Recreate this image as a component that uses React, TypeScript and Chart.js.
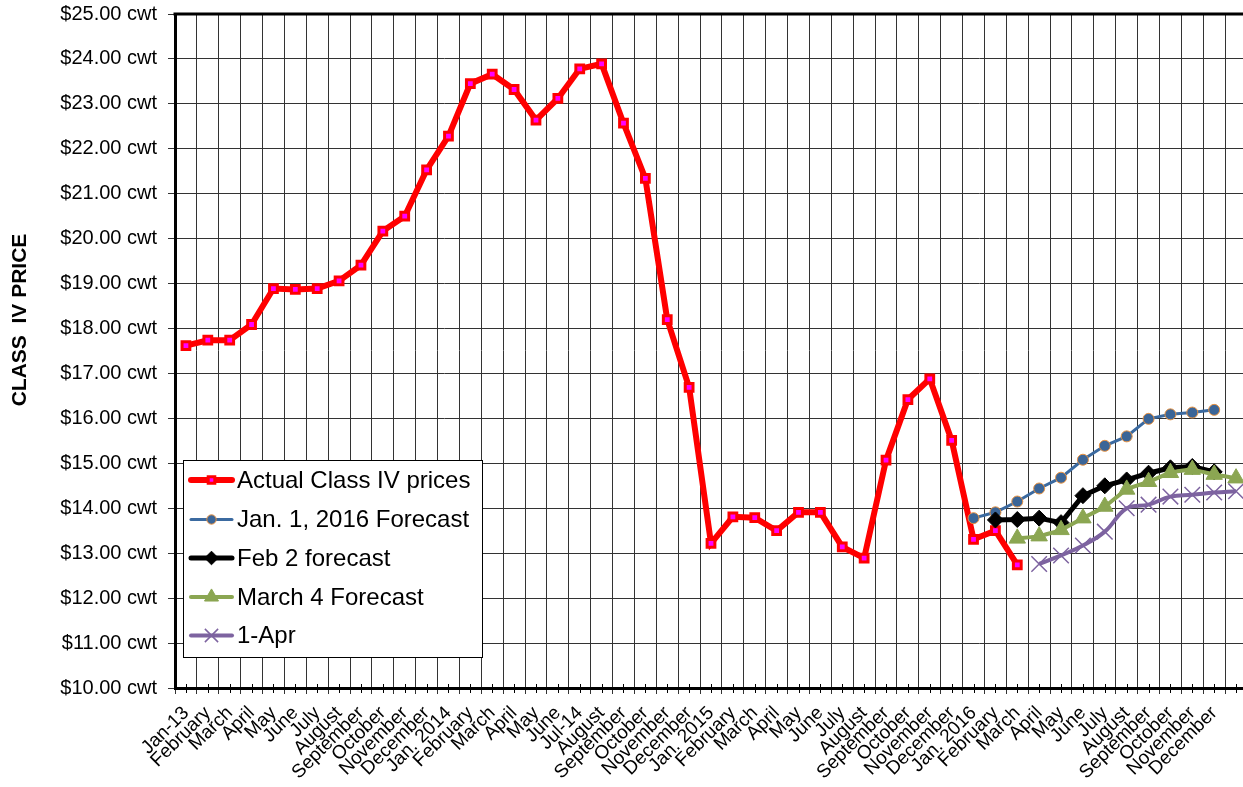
import React, { useEffect, useRef } from 'react';
import { Chart, registerables } from 'chart.js';

Chart.register(...registerables);

const FONT = '"Liberation Sans", Arial, Helvetica, sans-serif';

const categories = [
  'Jan-13', 'February', 'March', 'April', 'May', 'June', 'July', 'August', 'September', 'October', 'November', 'December',
  'Jan. 2014', 'February', 'March', 'April', 'May', 'June', 'Jul-14', 'August', 'September', 'October', 'November', 'December',
  'Jan. 2015', 'February', 'March', 'April', 'May', 'June', 'July', 'August', 'September', 'October', 'November', 'December',
  'Jan. 2016', 'February', 'March', 'April', 'May', 'June', 'July', 'August', 'September', 'October', 'November', 'December',
  '',
];

const yMin = 10;
const yMax = 25;
const yStep = 1;
const yTitle = 'CLASS  IV PRICE';

// Actual Class IV prices, starting Jan-13
const actualPrices = [
  17.62, 17.74, 17.74, 18.09, 18.89, 18.87, 18.89, 19.06, 19.41, 20.17, 20.5, 21.53,
  22.28, 23.45, 23.66, 23.32, 22.64, 23.12, 23.78, 23.89, 22.57, 21.34, 18.2, 16.69,
  13.22, 13.81, 13.79, 13.5, 13.91, 13.91, 13.14, 12.89, 15.07, 16.42, 16.88, 15.51,
  13.31, 13.5, 12.74,
];
// Jan. 1, 2016 Forecast, starting Jan. 2016
const jan1Start = 36;
const jan1Forecast = [13.78, 13.91, 14.15, 14.44, 14.68, 15.08, 15.39, 15.6, 15.99, 16.09, 16.13, 16.19];
// Feb 2 forecast, starting February 2016
const feb2Start = 37;
const feb2Forecast = [13.74, 13.75, 13.78, 13.68, 14.28, 14.5, 14.63, 14.78, 14.9, 14.93, 14.81];
// March 4 Forecast, starting March 2016
const mar4Start = 38;
const mar4Forecast = [13.33, 13.38, 13.52, 13.78, 14.04, 14.42, 14.59, 14.79, 14.86, 14.75, 14.67];
// 1-Apr forecast, starting April 2016
const apr1Start = 39;
const apr1Forecast = [12.76, 12.95, 13.17, 13.48, 14.0, 14.08, 14.26, 14.3, 14.35, 14.38];

const pad = (start: number, vals: number[]) => {
  const out: (number | null)[] = [];
  for (let i = 0; i < start; i++) out.push(null);
  return out.concat(vals);
};

function drawMarker(ctx: CanvasRenderingContext2D, style: string, x: number, y: number, r: number, fill: string, stroke: string, bw: number) {
  ctx.save();
  ctx.fillStyle = fill;
  ctx.strokeStyle = stroke;
  ctx.lineWidth = bw;
  ctx.beginPath();
  if (style === 'rect') {
    const s = Math.SQRT1_2 * r;
    ctx.rect(x - s, y - s, 2 * s, 2 * s);
    ctx.fill();
    if (bw) ctx.stroke();
  } else if (style === 'circle') {
    ctx.arc(x, y, r, 0, Math.PI * 2);
    ctx.fill();
    if (bw) ctx.stroke();
  } else if (style === 'rectRot') {
    ctx.moveTo(x, y - r);
    ctx.lineTo(x + r, y);
    ctx.lineTo(x, y + r);
    ctx.lineTo(x - r, y);
    ctx.closePath();
    ctx.fill();
    if (bw) ctx.stroke();
  } else if (style === 'triangle') {
    for (let k = 0; k < 3; k++) {
      const a = (k * 2 * Math.PI) / 3;
      const px = x + Math.sin(a) * r;
      const py = y - Math.cos(a) * r;
      if (k === 0) ctx.moveTo(px, py);
      else ctx.lineTo(px, py);
    }
    ctx.closePath();
    ctx.fill();
    if (bw) ctx.stroke();
  } else if (style === 'crossRot') {
    const d = Math.SQRT1_2 * r;
    ctx.moveTo(x - d, y - d);
    ctx.lineTo(x + d, y + d);
    ctx.moveTo(x + d, y - d);
    ctx.lineTo(x - d, y + d);
    ctx.stroke();
  }
  ctx.restore();
}

const decorPlugin = {
  id: 'decor',
  afterDraw(chart: any) {
    const { ctx, chartArea: ca, scales } = chart;
    const xs = scales.x;
    ctx.save();
    // top border
    ctx.strokeStyle = '#000';
    ctx.lineWidth = 3;
    ctx.beginPath();
    ctx.moveTo(ca.left - 1.5, ca.top);
    ctx.lineTo(ca.right + 2, ca.top);
    ctx.stroke();
    // minor ticks at category centres
    ctx.lineWidth = 1;
    for (let i = 0; i < categories.length; i++) {
      const px = Math.round(xs.getPixelForValue(i)) + 0.5;
      ctx.beginPath();
      ctx.moveTo(px, ca.bottom - 4);
      ctx.lineTo(px, ca.bottom + 5);
      ctx.stroke();
    }
    // y title
    ctx.save();
    ctx.translate(20.5, 320);
    ctx.rotate(-Math.PI / 2);
    ctx.font = `bold 21px ${FONT}`;
    ctx.fillStyle = '#000';
    ctx.textAlign = 'center';
    ctx.textBaseline = 'middle';
    ctx.fillText(yTitle, 0, 0);
    ctx.restore();
    // legend box
    const bx = 183, by = 460, bwid = 299, bh = 197;
    ctx.fillStyle = '#fff';
    ctx.fillRect(bx, by, bwid, bh);
    ctx.strokeStyle = '#000';
    ctx.lineWidth = 1;
    ctx.strokeRect(bx + 0.5, by + 0.5, bwid, bh);
    const rowY = [480, 519.5, 558, 597, 635.5];
    chart.data.datasets.forEach((ds: any, i: number) => {
      const y = rowY[i];
      ctx.strokeStyle = ds.borderColor;
      ctx.lineWidth = ds.borderWidth;
      ctx.lineCap = 'round';
      ctx.beginPath();
      ctx.moveTo(191, y);
      ctx.lineTo(232, y);
      ctx.stroke();
      ctx.lineCap = 'butt';
      drawMarker(ctx, ds.pointStyle, 211.5, y, ds.pointRadius * 0.85, ds.pointBackgroundColor, ds.pointBorderColor, ds.pointBorderWidth);
      ctx.fillStyle = '#000';
      ctx.font = `24px ${FONT}`;
      ctx.textAlign = 'left';
      ctx.textBaseline = 'middle';
      ctx.fillText(ds.label, 237, y + 1);
    });
    ctx.restore();
  },
};

export default function App() {
  const ref = useRef<HTMLCanvasElement>(null);
  useEffect(() => {
    if (!ref.current) return;
    const chart = new Chart(ref.current, {
      type: 'line',
      data: {
        labels: categories,
        datasets: [
          {
            label: 'Actual Class IV prices',
            data: actualPrices,
            borderColor: '#FF0000',
            borderWidth: 6,
            pointStyle: 'rect',
            pointRadius: 5.5,
            pointBackgroundColor: '#FF00FF',
            pointBorderColor: '#FF0000',
            pointBorderWidth: 3,
            tension: 0,
            order: 5,
          },
          {
            label: 'Jan. 1, 2016 Forecast',
            data: pad(jan1Start, jan1Forecast),
            borderColor: '#3B6AA0',
            borderWidth: 3,
            pointStyle: 'circle',
            pointRadius: 5.5,
            pointBackgroundColor: '#3B6597',
            pointBorderColor: '#E8913F',
            pointBorderWidth: 1,
            tension: 0,
            order: 4,
          },
          {
            label: 'Feb 2 forecast',
            data: pad(feb2Start, feb2Forecast),
            borderColor: '#000000',
            borderWidth: 5,
            pointStyle: 'rectRot',
            pointRadius: 8,
            pointBackgroundColor: '#000000',
            pointBorderColor: '#000000',
            pointBorderWidth: 1,
            tension: 0,
            order: 3,
          },
          {
            label: 'March 4 Forecast',
            data: pad(mar4Start, mar4Forecast),
            borderColor: '#8BA652',
            borderWidth: 4,
            pointStyle: 'triangle',
            pointRadius: 9.5,
            pointBackgroundColor: '#8BA652',
            pointBorderColor: '#8BA652',
            pointBorderWidth: 1,
            tension: 0.15,
            order: 2,
          },
          {
            label: '1-Apr',
            data: pad(apr1Start, apr1Forecast),
            borderColor: '#7D63A0',
            borderWidth: 4,
            pointStyle: 'crossRot',
            pointRadius: 11,
            pointBackgroundColor: '#7D63A0',
            pointBorderColor: '#7D63A0',
            pointBorderWidth: 1.5,
            tension: 0.4,
            order: 1,
          },
        ] as any,
      },
      options: {
        animation: false,
        responsive: false,
        events: [],
        layout: { autoPadding: false, padding: { top: 14, left: 0, right: 0, bottom: 0 } },
        plugins: {
          legend: { display: false },
          tooltip: { enabled: false },
          title: { display: false },
        },
        scales: {
          x: {
            type: 'category',
            offset: true,
            grid: { offset: true, color: '#333', lineWidth: 1, tickLength: 6, drawTicks: true },
            border: { color: '#000', width: 3 },
            ticks: {
              autoSkip: false,
              maxRotation: 45,
              minRotation: 45,
              color: '#000',
              padding: 8,
              font: { size: 19, family: FONT },
            },
            afterFit: (s: any) => {
              s.height = 99;
              s.paddingLeft = 0;
              s.paddingRight = 0;
            },
          },
          y: {
            min: yMin,
            max: yMax,
            grid: { color: '#333', lineWidth: 1, tickLength: 7 },
            border: { color: '#000', width: 3 },
            ticks: {
              stepSize: yStep,
              color: '#000',
              padding: 11,
              font: { size: 20, family: FONT },
              callback: (v: any) => `$${Number(v).toFixed(2)} cwt`,
            },
            afterFit: (s: any) => {
              s.width = 175;
              s.paddingTop = 0;
              s.paddingBottom = 0;
            },
          },
        },
      } as any,
      plugins: [decorPlugin],
    });
    return () => chart.destroy();
  }, []);

  return (
    <div style={{ position: 'fixed', left: 0, top: 0, width: 1243, height: 787, overflow: 'hidden', background: '#fff' }}>
      <canvas ref={ref} width={1247} height={787} style={{ display: 'block' }} />
    </div>
  );
}
